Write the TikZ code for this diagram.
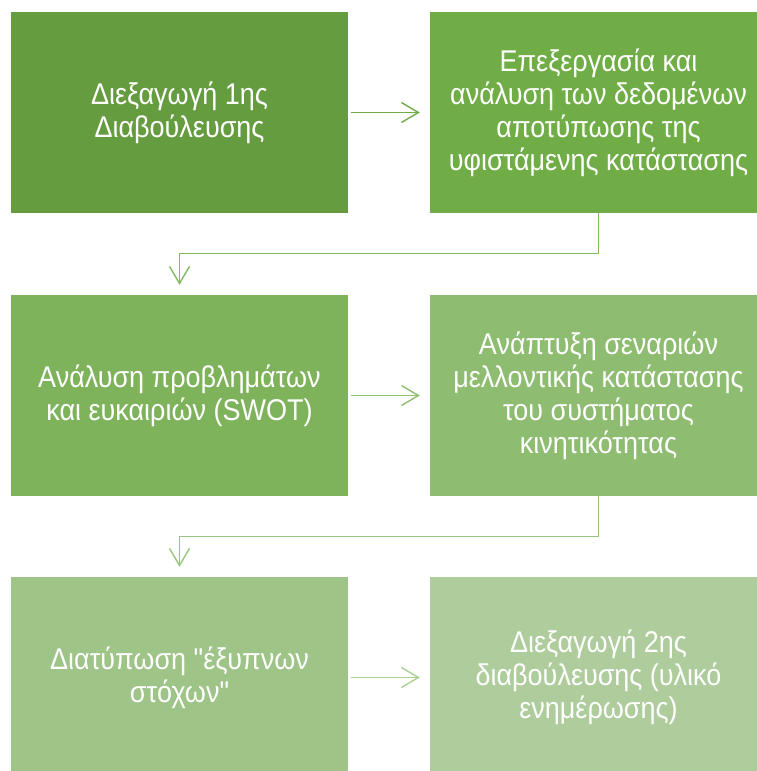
\documentclass[tikz,border=0pt]{standalone}
\usepackage{fontspec}
\setmainfont[FakeStretch=0.9, Ligatures=TeXOff]{Liberation Sans}
\usetikzlibrary{arrows.meta}
\definecolor{cA}{RGB}{102,156,64}
\definecolor{cB}{RGB}{112,173,71}
\definecolor{cC}{RGB}{126,179,92}
\definecolor{cD}{RGB}{142,188,112}
\definecolor{cE}{RGB}{158,196,136}
\definecolor{cF}{RGB}{174,204,156}
\definecolor{aA}{RGB}{112,173,71}
\definecolor{aB}{RGB}{128,186,92}
\definecolor{aC}{RGB}{140,192,108}
\definecolor{aD}{RGB}{152,198,124}
\definecolor{aE}{RGB}{168,208,146}
\tikzset{
  x=1pt,y=-1pt,
  stepbox/.style={rectangle, inner sep=0pt, minimum width=337pt, minimum height=201pt,
    text=white, align=center, font=\fontsize{30}{33}\selectfont},
  conn/.style={line width=1.4pt, -{Straight Barb[length=17pt,width=20pt,line width=1.4pt]}}
}
\begin{document}
\begin{tikzpicture}
\useasboundingbox (0,0) rectangle (757,771);
\node[stepbox, fill=cA] (b1) at (179.5,112.5) {Διεξαγωγή 1ης\\Διαβούλευσης};
\node[stepbox, fill=cB] (b2) at (598.5,112.5) {Επεξεργασία και\\ανάλυση των δεδομένων\\αποτύπωσης της\\υφιστάμενης κατάστασης};
\node[stepbox, fill=cC] (b3) at (179.5,395.5) {Ανάλυση προβλημάτων\\και ευκαιριών (SWOT)};
\node[stepbox, fill=cD] (b4) at (598.5,395.5) {Ανάπτυξη σεναριών\\μελλοντικής κατάστασης\\του συστήματος\\κινητικότητας};
\node[stepbox, fill=cE] (b5) at (179.5,677.5) {Διατύπωση "έξυπνων\\στόχων"};
\node[stepbox, fill=cF] (b6) at (598.5,677.5) {Διεξαγωγή 2ης\\διαβούλευσης (υλικό\\ενημέρωσης)};
\draw[conn, aA, shorten <=3pt, shorten >=10pt] (b1.east) -- (b2.west);
\draw[conn, aB, shorten >=10pt] (b2.south) -- ++(0,40) -| (b3.north);
\draw[conn, aC, shorten <=3pt, shorten >=10pt] (b3.east) -- (b4.west);
\draw[conn, aD, shorten >=10pt] (b4.south) -- ++(0,40) -| (b5.north);
\draw[conn, aE, shorten <=3pt, shorten >=10pt] (b5.east) -- (b6.west);
\end{tikzpicture}
\end{document}
